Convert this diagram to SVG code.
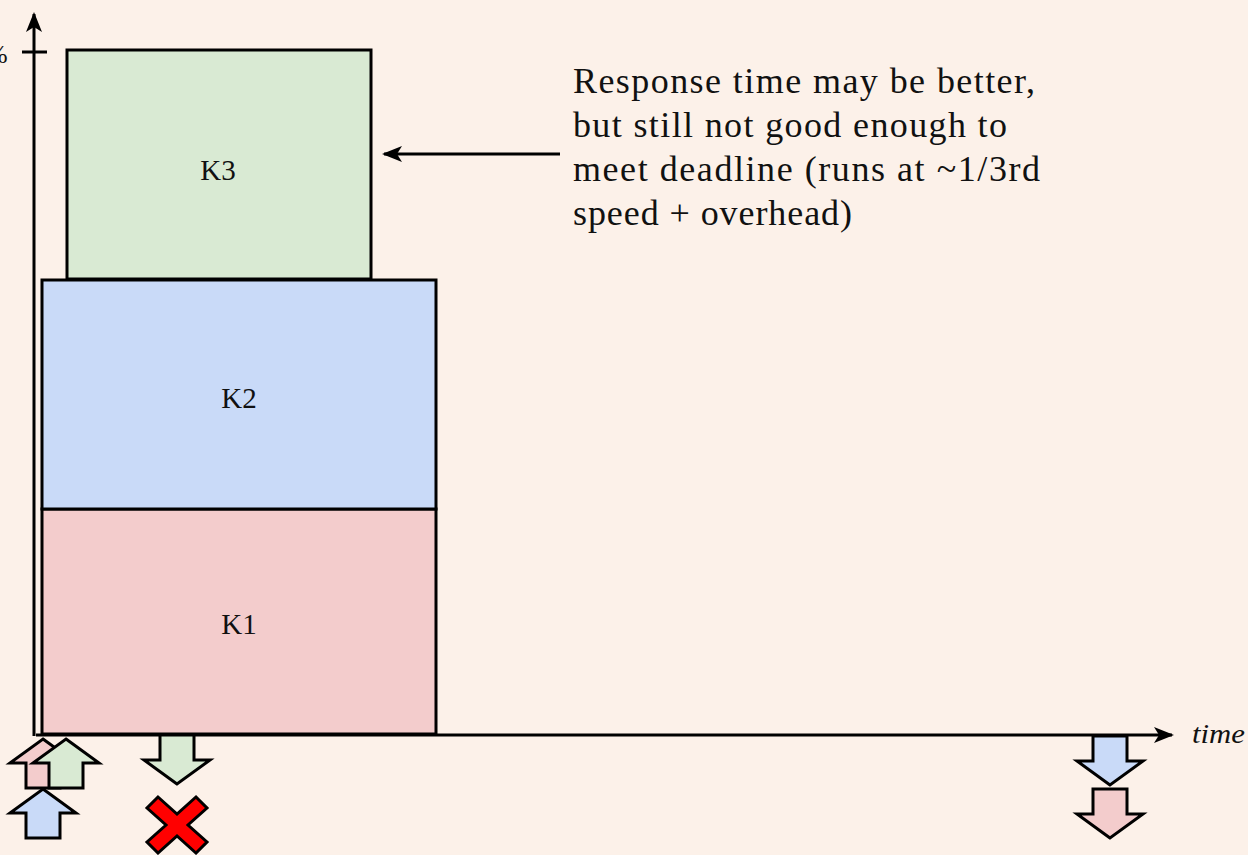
<svg xmlns="http://www.w3.org/2000/svg" width="1248" height="855" viewBox="0 0 1248 855">
  <defs>
    <style>
      .box { stroke: #000; stroke-width: 3; }
      .k1 { fill: #f3cccc; }
      .k2 { fill: #c9daf8; }
      .k3 { fill: #d9ead3; }
      .lbl { font-family: "Liberation Serif", "DejaVu Serif", serif; font-size: 29px; fill: #111; text-anchor: middle; }
      .note { font-family: "Liberation Serif", "DejaVu Serif", serif; font-size: 36px; fill: #111; }
      .axis { stroke: #000; stroke-width: 3; fill: none; }
      .evt { stroke: #000; stroke-width: 3; stroke-linejoin: miter; }
    </style>
    <marker id="head" viewBox="0 0 20 16" refX="18" refY="8" markerWidth="20" markerHeight="16" markerUnits="userSpaceOnUse" orient="auto">
      <path d="M0,0 L20,8 L0,16 L5,8 Z" fill="#000"/>
    </marker>
    <!-- block arrows, tip at origin -->
    <path id="up" d="M0,0 L33,24 L17,24 L17,49 L-17,49 L-17,24 L-33,24 Z"/>
    <path id="down" d="M0,0 L-33,-24 L-17,-24 L-17,-49 L17,-49 L17,-24 L33,-24 Z"/>
  </defs>

  <rect width="1248" height="855" fill="#fcf1e9"/>

  <!-- task blocks -->
  <g id="k1">
    <rect class="box k1" x="42" y="509" width="394" height="225"/>
    <text class="lbl" x="239" y="634">K1</text>
  </g>
  <g id="k2">
    <rect class="box k2" x="42" y="280" width="394" height="229"/>
    <text class="lbl" x="239" y="408">K2</text>
  </g>
  <g id="k3">
    <rect class="box k3" x="67" y="50" width="304" height="229"/>
    <text class="lbl" x="218" y="180">K3</text>
  </g>

  <!-- axes -->
  <g id="axes">
    <line class="axis" x1="34" y1="736" x2="34" y2="14" marker-end="url(#head)"/>
    <line class="axis" x1="22" y1="52" x2="47" y2="52"/>
    <text x="-14" y="63" font-family="Liberation Serif, serif" font-size="26" fill="#111">%</text>
    <line class="axis" x1="36" y1="735" x2="1172" y2="735" marker-end="url(#head)"/>
    <text x="1192" y="743" font-family="Liberation Serif, serif" font-style="italic" font-size="27" fill="#111" textLength="53" lengthAdjust="spacingAndGlyphs">time</text>
  </g>

  <!-- annotation -->
  <g id="note">
    <text class="note">
      <tspan x="573" y="93" textLength="462">Response time may be better,</tspan>
      <tspan x="573" y="137" textLength="434">but still not good enough to</tspan>
      <tspan x="573" y="181" textLength="467">meet deadline (runs at ~1/3rd</tspan>
      <tspan x="573" y="225" textLength="279">speed + overhead)</tspan>
    </text>
  </g>

  <g id="connectors">
    <line x1="560" y1="154" x2="384" y2="154" stroke="#000" stroke-width="3" marker-end="url(#head)"/>
  </g>

  <!-- release events -->
  <g id="releases">
    <use href="#up" class="evt k1" x="43" y="739"/>
    <use href="#up" class="evt k3" x="66" y="739"/>
    <use href="#up" class="evt k2" x="43" y="789"/>
  </g>

  <!-- deadline events -->
  <g id="deadline-k3">
    <use href="#down" class="evt k3" x="177" y="784"/>
    <path class="evt" fill="#ff0000" d="M158,797 L177,814 L196,797 L207,808 L188,825 L207,842 L196,853 L177,836 L158,853 L147,842 L166,825 L147,808 Z"/>
  </g>
  <g id="deadline-k2k1">
    <use href="#down" class="evt k2" x="1110" y="785"/>
    <use href="#down" class="evt k1" x="1110" y="838"/>
  </g>
</svg>
